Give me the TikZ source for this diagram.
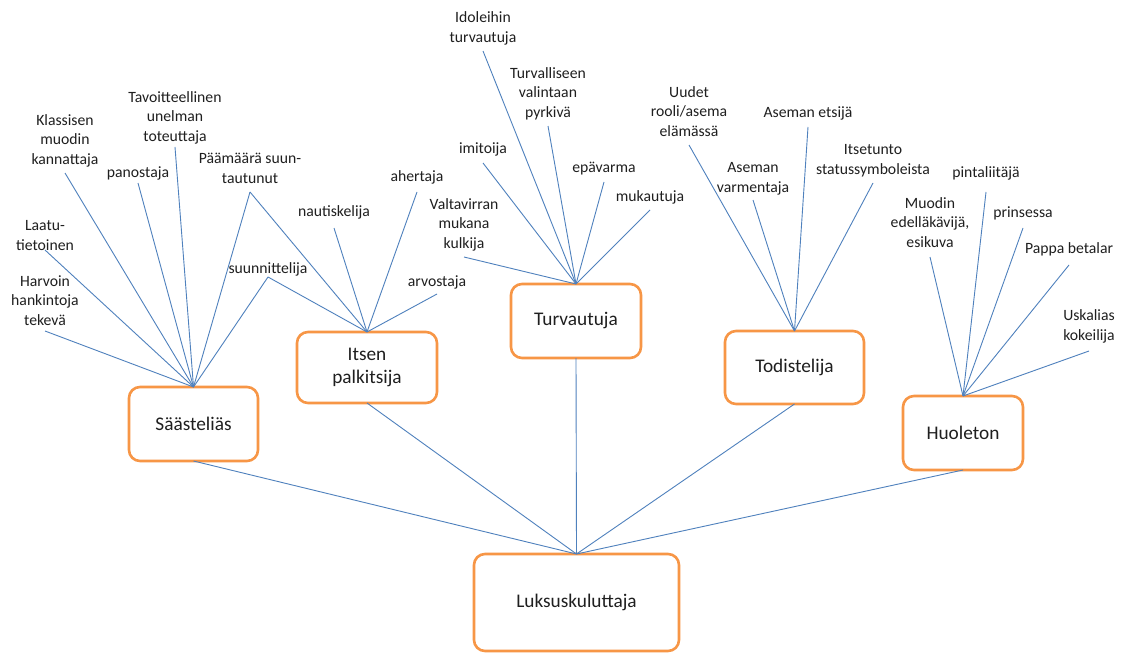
\documentclass[tikz,border=0pt]{standalone}
\usepackage{fontspec}
\setmainfont{Carlito}
\definecolor{boxorange}{HTML}{F79646}
\definecolor{linkblue}{HTML}{4F81BD}
\definecolor{ink}{HTML}{1F1F1F}
\begin{document}
\begin{tikzpicture}[x=1pt,y=-1pt,
  cat/.style={draw=boxorange, line width=2.6pt, rounded corners=11pt, fill=white,
    align=center, text=ink, font=\fontsize{19.3}{23.5}\selectfont,
    inner sep=0pt, outer sep=0pt},
  leaf/.style={align=center, text=ink, font=\fontsize{15.7}{19.5}\selectfont,
    anchor=south, inner xsep=1pt, inner ysep=#1, outer sep=0pt,
    execute at end node=\strut},
  leaf/.default=3pt,
  link/.style={draw=linkblue, line width=0.9pt}]
\useasboundingbox[fill=white] (0,0) rectangle (1121,655);

% category boxes
\node[cat, minimum width=129pt, minimum height=74pt] (saast) at (193.5,424) {Säästeliäs};
\node[cat, minimum width=140pt, minimum height=71pt] (itsen) at (367,367.5) {Itsen\\palkitsija};
\node[cat, minimum width=130pt, minimum height=74pt] (turva) at (576,321) {Turvautuja};
\node[cat, minimum width=139pt, minimum height=73pt] (todis) at (794.5,367.5) {Todistelija};
\node[cat, minimum width=120pt, minimum height=74pt] (huole) at (963,433) {Huoleton};
\node[cat, minimum width=205pt, minimum height=97pt] (luksus) at (576.5,602.5) {Luksuskuluttaja};

% root connectors
\foreach \c in {saast,itsen,turva,todis,huole}
  \draw[link] (\c.south) -- (luksus.north);

% Säästeliäs
\node[leaf] (klass) at (65,173) {Klassisen\\muodin\\kannattaja};
\node[leaf=0pt] (tavo) at (175,147) {Tavoitteellinen\\unelman\\toteuttaja};
\node[leaf=0pt] (pano) at (138,183) {panostaja};
\node[leaf=-6pt] (laatu) at (45,250) {Laatu-\\tietoinen};
\node[leaf=0pt] (harv) at (45,331) {Harvoin\\hankintoja\\tekevä};
\node[leaf] (paam) at (250,192) {Päämäärä suun-\\tautunut};
\node[leaf=-2pt] (suun) at (268,277) {suunnittelija};
\foreach \l in {klass,tavo,pano,laatu,harv,paam,suun}
  \draw[link] (\l.south) -- (saast.north);

% Itsen palkitsija
\node[leaf=6pt] (naut) at (334,228) {nautiskelija};
\node[leaf=5pt] (aher) at (417,192) {ahertaja};
\node[leaf=2pt] (arvo) at (437,294) {arvostaja};
\foreach \l in {paam,suun,naut,aher,arvo}
  \draw[link] (\l.south) -- (itsen.north);

% Turvautuja
\node[leaf] (idol) at (483,51) {Idoleihin\\turvautuja};
\node[leaf] (turv) at (548,126) {Turvalliseen\\valintaan\\pyrkivä};
\node[leaf=4pt] (imit) at (483,163) {imitoija};
\node[leaf=4pt] (epav) at (604,182) {epävarma};
\node[leaf] (muka) at (650,210) {mukautuja};
\node[leaf] (valt) at (464,257) {Valtavirran\\mukana\\kulkija};
\foreach \l in {idol,turv,imit,epav,muka,valt}
  \draw[link] (\l.south) -- (turva.north);

% Todistelija
\node[leaf] (uude) at (689,145) {Uudet\\rooli/asema\\elämässä};
\node[leaf=4pt] (aset) at (808,127) {Aseman etsijä};
\node[leaf=2pt] (asev) at (753,200) {Aseman\\varmentaja};
\node[leaf] (itse) at (873,183) {Itsetunto\\statussymboleista};
\foreach \l in {uude,aset,asev,itse}
  \draw[link] (\l.south) -- (todis.north);

% Huoleton
\node[leaf=9pt] (pint) at (986,192) {pintaliitäjä};
\node[leaf=4pt] (muod) at (930,257) {Muodin\\edelläkävijä,\\esikuva};
\node[leaf=5pt] (prin) at (1023,228) {prinsessa};
\node[leaf=6pt] (papp) at (1069,265) {Pappa betalar};
\node[leaf=5pt] (uska) at (1089,351) {Uskalias\\kokeilija};
\foreach \l in {pint,muod,prin,papp,uska}
  \draw[link] (\l.south) -- (huole.north);
\end{tikzpicture}
\end{document}
